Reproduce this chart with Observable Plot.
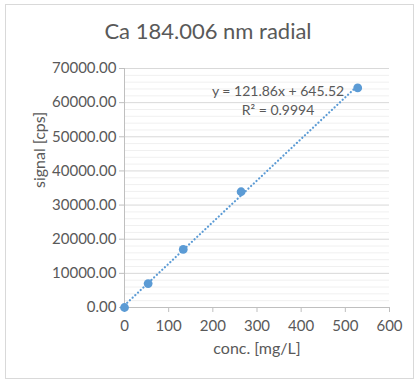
<!DOCTYPE html>
<html><head><meta charset="utf-8">
<script src="https://cdn.jsdelivr.net/npm/d3@7"></script>
<script src="https://cdn.jsdelivr.net/npm/@observablehq/plot@0.6"></script>
<style>
body{margin:0;background:#fff;}
#wrap{position:relative;width:416px;height:382px;overflow:hidden;font-family:Lato,"Open Sans",sans-serif;}
#frame{position:absolute;left:5px;top:4px;width:409px;height:375px;border:1px solid #d9d9d9;box-sizing:border-box;}
#title{position:absolute;left:0;width:416px;top:17px;text-align:center;font-size:22px;color:#595959;}
#chart{position:absolute;left:0;top:0;}
</style></head><body>
<div id="wrap"><div id="frame"></div><div id="chart"></div><div id="title">Ca 184.006 nm radial</div></div>
<script>
const conc = [0, 53.5, 133, 264, 528];
const signal = [0, 7000, 17000, 33900, 64300];
const slope = 121.86, intercept = 645.52;
const xTicks = [0, 100, 200, 300, 400, 500, 600];
const yTicks = [0, 10000, 20000, 30000, 40000, 50000, 60000, 70000];
const yMinor = d3.range(0, 70001, 2000);
const eqLabel = ["y = 121.86x + 645.52", "R² = 0.9994"];

const pts = conc.map((c, i) => ({c, s: signal[i]}));
const xMax = d3.max(conc);
const trend = [0, xMax].map(c => ({c, s: slope * c + intercept}));
const txt = "#595959";

const plot = Plot.plot({
  width: 416, height: 382,
  marginLeft: 124, marginRight: 27, marginTop: 68, marginBottom: 75,
  style: {fontFamily: "Lato, 'Open Sans', sans-serif", fontSize: "15px", color: txt, background: "transparent"},
  x: {domain: [0, 600], ticks: xTicks, label: null},
  y: {domain: [0, 70000], ticks: yTicks, label: null},
  marks: [
    Plot.ruleY(yMinor.filter(v => v % 10000 !== 0), {stroke: "#f0f0f0", strokeWidth: 1}),
    Plot.ruleY(yTicks.filter(v => v > 0), {stroke: "#d9d9d9", strokeWidth: 1}),
    Plot.axisX({ticks: xTicks, tickSize: 5, tickPadding: 8, stroke: "#bfbfbf", fill: txt, fontSize: 15}),
    Plot.axisY({ticks: yTicks, tickSize: 5, tickPadding: 3, stroke: "#bfbfbf", fill: txt, fontSize: 15, tickFormat: d => d3.format(".2f")(d)}),
    Plot.ruleX([0], {stroke: "#bfbfbf"}),
    Plot.ruleY([0], {stroke: "#bfbfbf"}),
    Plot.line(trend, {x: "c", y: "s", stroke: "#5b9bd5", strokeWidth: 2.2, strokeLinecap: "round", strokeDasharray: "0.1 3.6"}),
    Plot.dot(pts, {x: "c", y: "s", r: 4.4, fill: "#5b9bd5", stroke: "none"}),
    Plot.text([eqLabel.join("\n")], {frameAnchor: "top", dx: 21, dy: 15, fontSize: 14, fill: txt, lineHeight: 1.3, textAnchor: "middle"}),
    Plot.text(["conc. [mg/L]"], {frameAnchor: "bottom", dy: 46, fontSize: 16, fill: txt}),
    Plot.text(["signal [cps]"], {frameAnchor: "left", dx: -85, rotate: -90, fontSize: 16, fill: txt})
  ]
});
document.getElementById("chart").appendChild(plot);
</script></body></html>
